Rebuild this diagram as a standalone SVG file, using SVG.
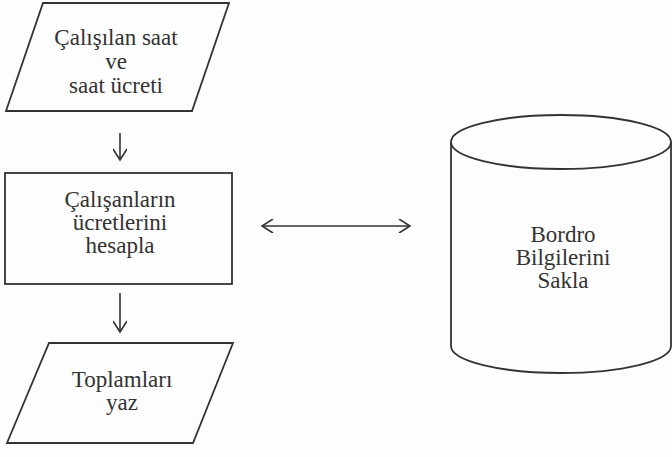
<svg xmlns="http://www.w3.org/2000/svg" width="672" height="457" viewBox="0 0 672 457">
<defs>
<style>
.shape{fill:none;stroke:#333333;stroke-width:1.8}
.conn{fill:none;stroke:#333333;stroke-width:1.6}
text{font-family:'Liberation Serif','Times New Roman',Times,'DejaVu Serif',serif;font-size:23px;fill:#333333;text-anchor:middle}
</style>
<marker id="arr" markerWidth="14" markerHeight="14" refX="12" refY="7" orient="auto-start-reverse" markerUnits="userSpaceOnUse">
<path d="M1,0 L12,7 L1,14" fill="none" stroke="#333333" stroke-width="1.6"/>
</marker>
</defs>
<rect width="672" height="457" fill="#fdfdfd"/>
<g id="input">
<polygon class="shape" points="43,3 229,3 192,111 6,111"/>
<text x="116" y="45">Çalışılan saat</text>
<text x="116" y="69">ve</text>
<text x="116" y="93">saat ücreti</text>
</g>
<g id="process">
<rect class="shape" x="5" y="173" width="227" height="111"/>
<text x="120" y="207">Çalışanların</text>
<text x="120" y="230">ücretlerini</text>
<text x="120" y="253">hesapla</text>
</g>
<g id="output">
<polygon class="shape" points="49,343 233,343 193,443 7,443"/>
<text x="122" y="387">Toplamları</text>
<text x="122" y="410">yaz</text>
</g>
<g id="storage">
<path class="shape" d="M451,142 L451,346 A110,27 0 0 0 671,346 L671,142"/>
<ellipse class="shape" cx="561" cy="142" rx="110" ry="27"/>
<text x="563" y="242">Bordro</text>
<text x="563" y="265">Bilgilerini</text>
<text x="563" y="288">Sakla</text>
</g>
<g id="connectors">
<line class="conn" x1="120" y1="133" x2="120" y2="160" marker-end="url(#arr)"/>
<line class="conn" x1="120" y1="293" x2="120" y2="332" marker-end="url(#arr)"/>
<line class="conn" x1="262" y1="226" x2="410" y2="226" marker-start="url(#arr)" marker-end="url(#arr)"/>
</g>
</svg>
